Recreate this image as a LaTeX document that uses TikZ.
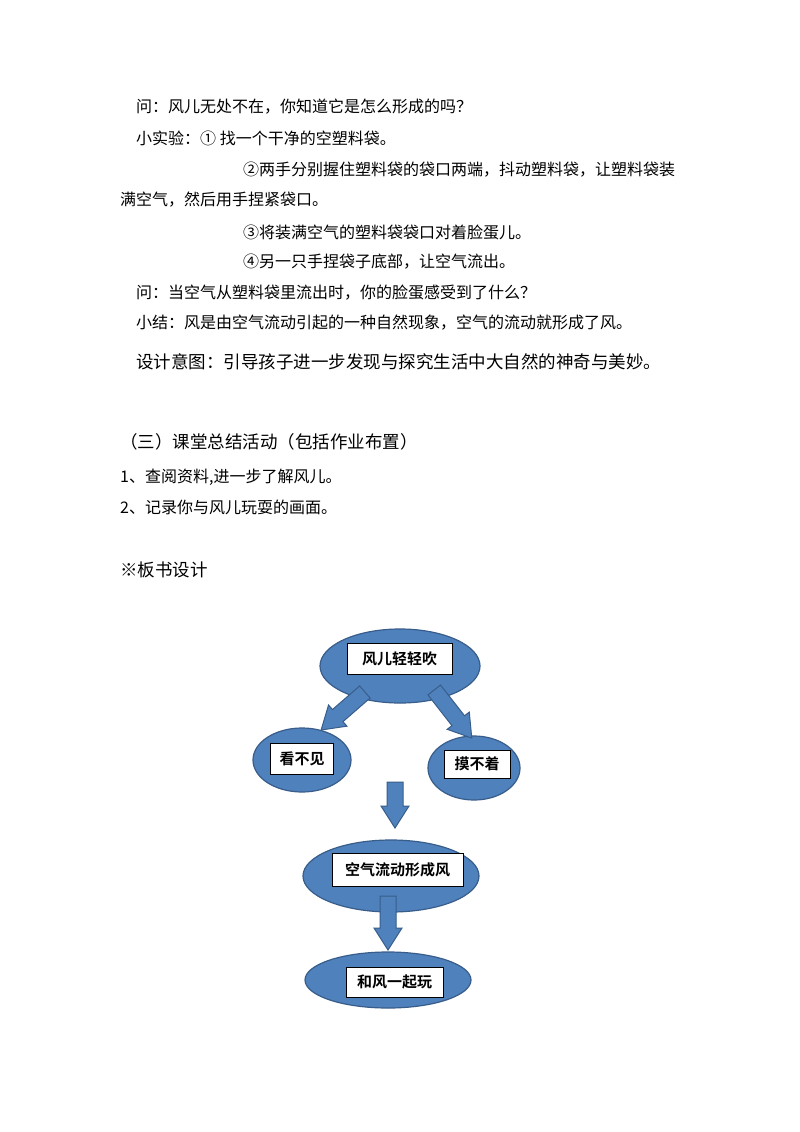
\documentclass[tikz,border=0pt]{standalone}
\usepackage{fontspec}
\setmainfont{Noto Sans CJK SC}[BoldFont={Noto Sans CJK SC Bold}]
\definecolor{efill}{RGB}{79,129,189}
\definecolor{eline}{RGB}{56,93,138}
\tikzset{
  txt/.style={anchor=west,inner sep=0pt,font=\fontsize{16}{16}\selectfont},
  bigtxt/.style={anchor=west,inner sep=0pt,font=\fontsize{17.5}{17.5}\selectfont},
  ell/.style={draw=eline,line width=1.2pt,fill=efill},
  lbl/.style={draw=black,line width=0.6pt,fill=white,inner sep=0pt,font=\fontsize{15}{15}\selectfont\bfseries},
  barrow/.style={draw=eline,line width=1pt,fill=efill,line join=miter}
}
% #1 x, #2 y, #3 angle, #4 length
\newcommand\myblockarrow[4]{%
  \begin{scope}[shift={(#1,#2)},rotate=#3]
    \filldraw[barrow] ({-#4/2},-8)--({#4/2-22},-8)--({#4/2-22},-14)--({#4/2},0)--({#4/2-22},14)--({#4/2-22},8)--({-#4/2},8)--cycle;
  \end{scope}}
\begin{document}
\begin{tikzpicture}[x=1pt,y=-1pt]
\fill[white] (0,0) rectangle (800,1132);
\node[txt] (t1) at (136,107) {问：风儿无处不在，你知道它是怎么形成的吗？};
\node[txt] (t2) at (136,138) {小实验：① 找一个干净的空塑料袋。};
\node[txt] (t3) at (243,170) {②两手分别握住塑料袋的袋口两端，抖动塑料袋，让塑料袋装};
\node[txt] (t4) at (120,200) {满空气，然后用手捏紧袋口。};
\node[txt] (t5) at (243,232) {③将装满空气的塑料袋袋口对着脸蛋儿。};
\node[txt] (t6) at (243,262) {④另一只手捏袋子底部，让空气流出。};
\node[txt] (t7) at (136,293) {问：当空气从塑料袋里流出时，你的脸蛋感受到了什么？};
\node[txt] (t8) at (136,323) {小结：风是由空气流动引起的一种自然现象，空气的流动就形成了风。};
\node[bigtxt] (t9) at (136,362) {设计意图：引导孩子进一步发现与探究生活中大自然的神奇与美妙。};
\node[bigtxt] (t10) at (120,442) {（三）课堂总结活动（包括作业布置）};
\node[txt] (t11) at (120,477) {1、查阅资料,进一步了解风儿。};
\node[txt] (t12) at (120,507) {2、记录你与风儿玩耍的画面。};
\node[bigtxt] (t13) at (120,570) {※板书设计};

\fill[ell] (400,666) ellipse [x radius=80,y radius=37];
\fill[ell] (302,760) ellipse [x radius=49,y radius=32];
\fill[ell] (474,768) ellipse [x radius=46,y radius=32];
\fill[ell] (391,876) ellipse [x radius=88,y radius=36];
\fill[ell] (388,980) ellipse [x radius=83,y radius=28];

\node[lbl,minimum width=105pt,minimum height=31pt] (a) at (399.5,658.5) {风儿轻轻吹};
\node[lbl,minimum width=63pt,minimum height=31pt] (b) at (302,759) {看不见};
\node[lbl,minimum width=66pt,minimum height=28pt] (c) at (477,764) {摸不着};
\node[lbl,minimum width=131pt,minimum height=33pt] (d) at (397.5,869.5) {空气流动形成风};
\node[lbl,minimum width=97pt,minimum height=30pt] (e) at (394.5,982) {和风一起玩};

\myblockarrow{343}{711}{-139}{58}
\myblockarrow{453}{714}{-52}{61}
\myblockarrow{395}{805}{-90}{46}
\myblockarrow{388}{923}{-90}{54}
\end{tikzpicture}
\end{document}
